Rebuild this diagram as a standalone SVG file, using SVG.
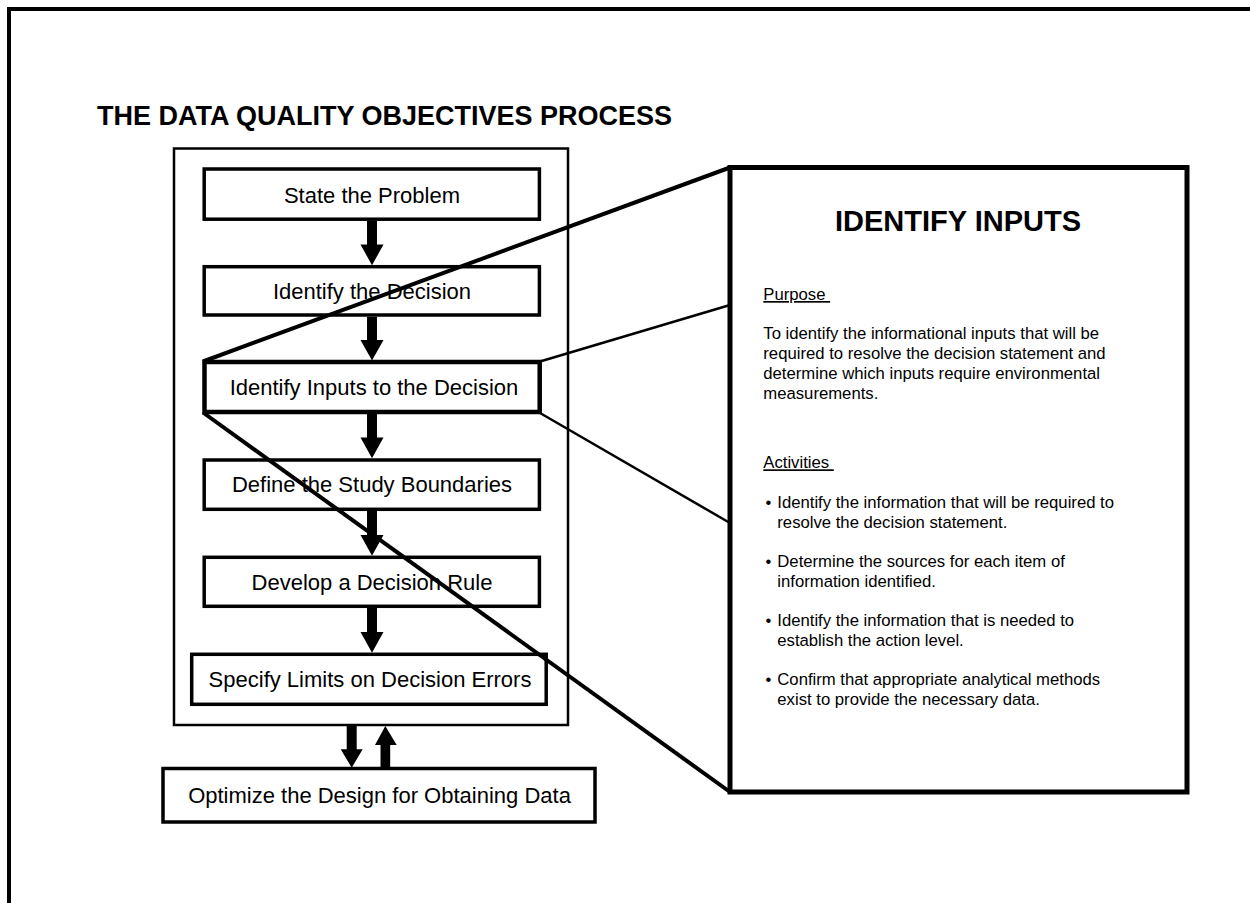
<svg xmlns="http://www.w3.org/2000/svg" width="1250" height="903" viewBox="0 0 1250 903">
<style>
.box{fill:#fff;stroke:#000;stroke-width:3.5}
.lbl{font-family:"Liberation Sans",Arial,sans-serif;font-size:22px;text-anchor:middle;fill:#000}
.sm{font-family:"Liberation Sans",Arial,sans-serif;font-size:16.7px;fill:#000}
.ul{text-decoration:underline}
.arr{fill:#000;stroke:none}
</style>
<rect width="1250" height="903" fill="#fff"/>
<path d="M9,906 V9 H1253" fill="none" stroke="#000" stroke-width="4"/>
<text x="97" y="125" font-family="'Liberation Sans',Arial,sans-serif" font-size="27" font-weight="bold">THE DATA QUALITY OBJECTIVES PROCESS</text>

<g id="process-frame"><rect x="174" y="148.5" width="394" height="576.5" fill="#fff" stroke="#000" stroke-width="2.5"/></g>

<g id="state-problem"><rect class="box" x="204.2" y="169" width="335.2" height="50.2"/><text class="lbl" x="372" y="202.5">State the Problem</text></g>
<g id="identify-decision"><rect class="box" x="204.2" y="266.7" width="335.2" height="48.3"/><text class="lbl" x="372" y="298.5">Identify the Decision</text></g>
<g id="identify-inputs"><rect class="box" x="204.5" y="362" width="335.2" height="50" style="stroke-width:4.5"/><text class="lbl" x="374" y="394.7">Identify Inputs to the Decision</text></g>
<g id="define-boundaries"><rect class="box" x="204.2" y="460" width="335.2" height="49.3"/><text class="lbl" x="372" y="492.3">Define the Study Boundaries</text></g>
<g id="decision-rule"><rect class="box" x="204.2" y="557.3" width="335.2" height="49"/><text class="lbl" x="372" y="589.5">Develop a Decision Rule</text></g>
<g id="limits-errors"><rect class="box" x="191.7" y="654.3" width="354.5" height="50"/><text class="lbl" x="370" y="687">Specify Limits on Decision Errors</text></g>
<g id="optimize-design"><rect class="box" x="163" y="768.5" width="432" height="53.5"/><text class="lbl" x="379.5" y="803">Optimize the Design for Obtaining Data</text></g>

<g id="identify-inputs-detail">
<rect x="730" y="167.5" width="457" height="624.5" fill="#fff" stroke="#000" stroke-width="5"/>
<text x="958" y="231" text-anchor="middle" font-family="'Liberation Sans',Arial,sans-serif" font-size="29" font-weight="bold">IDENTIFY INPUTS</text>
<text class="sm ul" x="763.3" y="300" xml:space="preserve">Purpose </text>
<text class="sm" x="763.3" y="339.3">To identify the informational inputs that will be</text>
<text class="sm" x="763.3" y="359.3">required to resolve the decision statement and</text>
<text class="sm" x="763.3" y="379.3">determine which inputs require environmental</text>
<text class="sm" x="763.3" y="399.3">measurements.</text>
<text class="sm ul" x="763.3" y="468.3" xml:space="preserve">Activities </text>
<text class="sm" x="765.5" y="508.3">•</text><text class="sm" x="777.3" y="508.3">Identify the information that will be required to</text>
<text class="sm" x="777.3" y="528.3">resolve the decision statement.</text>
<text class="sm" x="765.5" y="567.3">•</text><text class="sm" x="777.3" y="567.3">Determine the sources for each item of</text>
<text class="sm" x="777.3" y="587">information identified.</text>
<text class="sm" x="765.5" y="626.3">•</text><text class="sm" x="777.3" y="626.3">Identify the information that is needed to</text>
<text class="sm" x="777.3" y="645.7">establish the action level.</text>
<text class="sm" x="765.5" y="685.3">•</text><text class="sm" x="777.3" y="685.3">Confirm that appropriate analytical methods</text>
<text class="sm" x="777.3" y="705.3">exist to provide the necessary data.</text>
</g>

<g id="connectors">
<path class="arr" d="M367,221 H377 V244.5 H383.5 L372,265.3 L360.5,244.5 H367 Z"/>
<path class="arr" d="M367,316.7 H377 V340 H383.5 L372,360.5 L360.5,340 H367 Z"/>
<path class="arr" d="M367,414 H377 V437.5 H383.5 L372,458.3 L360.5,437.5 H367 Z"/>
<path class="arr" d="M367,511 H377 V535 H383.5 L372,555.7 L360.5,535 H367 Z"/>
<path class="arr" d="M367,608 H377 V632 H383.5 L372,652.7 L360.5,632 H367 Z"/>
<path class="arr" d="M346.7,725 H356.7 V749.3 H362.7 L351.7,767.7 L340.7,749.3 H346.7 Z"/>
<path class="arr" d="M380.5,768 H390.2 V745 H396.7 L385.3,726 L375,745 H380.5 Z"/>
<line x1="203" y1="361.5" x2="730" y2="167.5" stroke="#000" stroke-width="4"/>
<line x1="203" y1="412.5" x2="730" y2="792" stroke="#000" stroke-width="4"/>
<line x1="540" y1="361.5" x2="730" y2="305" stroke="#000" stroke-width="2.5"/>
<line x1="540" y1="413" x2="730" y2="523" stroke="#000" stroke-width="2.5"/>
</g>
</svg>
